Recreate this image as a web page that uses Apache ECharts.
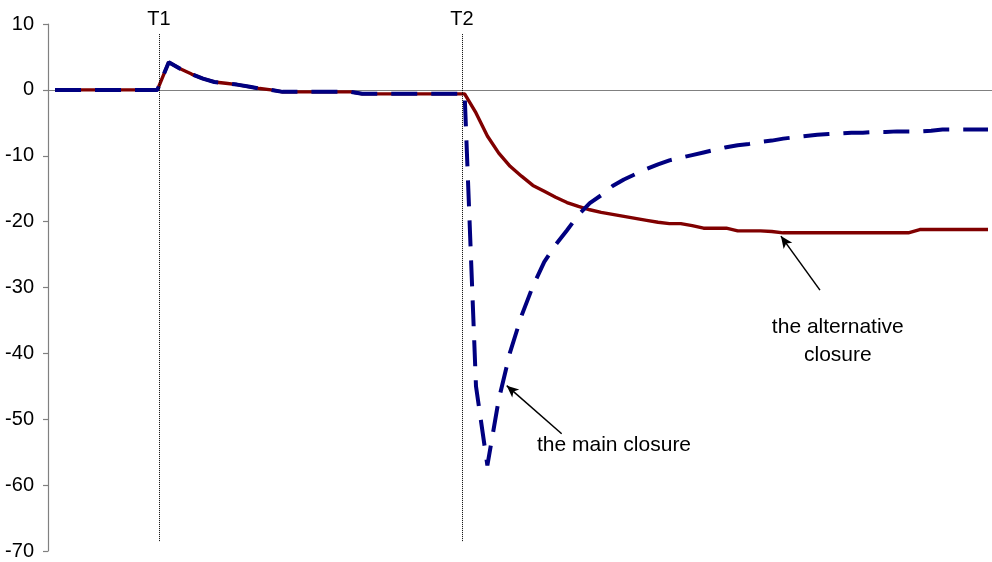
<!DOCTYPE html>
<html>
<head>
<meta charset="utf-8">
<script src="https://cdn.jsdelivr.net/npm/echarts@6/dist/echarts.min.js"></script>
<style>
  html, body { margin: 0; padding: 0; background: #fff; }
  #chart { width: 992px; height: 562px; }
</style>
</head>
<body>
<div id="chart"></div>
<script>
// Response of the two closures; one value per time step.
// Both runs coincide until the second shock (T2).
const commonPath = [
  0, 0, 0, 0, 0, 0, 0, 0, 0, 0,
  4.2, 3.2, 2.4, 1.7, 1.2, 1.0, 0.8, 0.5, 0.2, 0,
  -0.3, -0.3, -0.3, -0.3, -0.3, -0.3, -0.3,
  -0.6, -0.6, -0.6, -0.6, -0.6, -0.6, -0.6, -0.6, -0.6, -0.6
];
const mainAfter = [
  -45, -57, -47, -39.8, -34.3, -29.8, -26.1, -23.5, -21.3, -19.0,
  -17.2, -16.0, -14.6, -13.6, -12.8, -12.0, -11.3, -10.7, -10.3, -9.9,
  -9.5, -9.1, -8.7, -8.4, -8.2, -7.9, -7.7, -7.4, -7.2, -7.0,
  -6.8, -6.7, -6.6, -6.5, -6.5, -6.4, -6.4, -6.3, -6.3, -6.3,
  -6.2, -6.0, -6.0, -6.0, -6.0, -6.0
];
const altAfter = [
  -3.5, -7.0, -9.6, -11.6, -13.1, -14.5, -15.4, -16.3, -17.1, -17.7,
  -18.2, -18.6, -18.9, -19.2, -19.5, -19.8, -20.1, -20.3, -20.3, -20.6,
  -21.0, -21.0, -21.0, -21.4, -21.4, -21.4, -21.5, -21.7, -21.7, -21.7,
  -21.7, -21.7, -21.7, -21.7, -21.7, -21.7, -21.7, -21.7, -21.7, -21.2,
  -21.2, -21.2, -21.2, -21.2, -21.2, -21.2
];
const shockTimes = [9.14, 35.77];
const shockNames = ['T1', 'T2'];
const yTicks = { min: -70, max: 10, step: 10 };

const mainClosure = commonPath.concat(mainAfter);
const altClosure = commonPath.concat(altAfter);
const toPairs = arr => arr.map((v, i) => [i, v]);

const FONT = '"Liberation Sans", Arial, sans-serif';
const chart = echarts.init(document.getElementById('chart'), null, { renderer: 'canvas' });

// annotation arrow: plain start, arrow head at the curve
const arrow = (from, to) => [
  { coord: from, symbol: 'none', symbolSize: 0 },
  { coord: to, symbol: 'arrow', symbolSize: [8, 12] }
];

chart.setOption({
  animation: false,
  backgroundColor: '#ffffff',
  grid: { left: 48, right: 0, top: 24, bottom: 11, containLabel: false },
  xAxis: {
    type: 'value',
    min: -0.615,
    max: 82.35,
    axisLine: { show: true, onZero: true, lineStyle: { color: '#808080', width: 1.2 } },
    axisTick: { show: false },
    axisLabel: { show: false },
    splitLine: { show: false }
  },
  yAxis: {
    type: 'value',
    min: yTicks.min,
    max: yTicks.max,
    interval: yTicks.step,
    axisLine: { show: true, onZero: false, lineStyle: { color: '#808080', width: 1.2 } },
    axisTick: { show: true, inside: false, length: 5, lineStyle: { color: '#808080', width: 1.2 } },
    axisLabel: { color: '#000', fontSize: 20, fontFamily: FONT, margin: 14 },
    splitLine: { show: false }
  },
  series: [
    {
      name: 'the alternative closure',
      type: 'line',
      data: toPairs(altClosure),
      showSymbol: false,
      symbol: 'none',
      lineStyle: { color: '#800000', width: 3.4 },
      z: 2,
      silent: true,
      markLine: {
        silent: true,
        symbol: ['none', 'none'],
        lineStyle: { color: '#000', type: 'dotted', width: 1 },
        label: {
          show: true, position: 'end', formatter: '{b}', distance: 4,
          color: '#000', fontSize: 20, fontFamily: FONT
        },
        data: shockTimes.map((t, i) => [
          { name: shockNames[i], coord: [t, -68.5] },
          { coord: [t, 8.6] }
        ])
      },
      markPoint: {
        silent: true,
        symbol: 'rect',
        symbolSize: 1,
        itemStyle: { color: 'rgba(0,0,0,0)' },
        label: {
          show: true, position: 'inside', formatter: '{b}', color: '#000',
          fontSize: 21, fontFamily: FONT, lineHeight: 28, align: 'center'
        },
        data: [
          { name: 'the main closure', coord: [49.13, -54.0] },
          { name: 'the alternative\nclosure', coord: [68.8, -38.2] }
        ]
      }
    },
    {
      name: 'the main closure',
      type: 'line',
      data: toPairs(mainClosure),
      showSymbol: false,
      symbol: 'none',
      lineStyle: { color: '#000080', width: 4, type: [26, 14] },
      z: 3,
      silent: true,
      markLine: {
        silent: true,
        symbol: ['none', 'arrow'],
        symbolSize: 12,
        lineStyle: { color: '#000', type: 'solid', width: 1.5 },
        itemStyle: { color: '#000' },
        label: { show: false },
        data: [
          arrow([44.53, -52.2], [39.7, -44.9]),
          arrow([67.23, -30.4], [63.8, -22.2])
        ]
      }
    }
  ]
});
</script>
</body>
</html>
